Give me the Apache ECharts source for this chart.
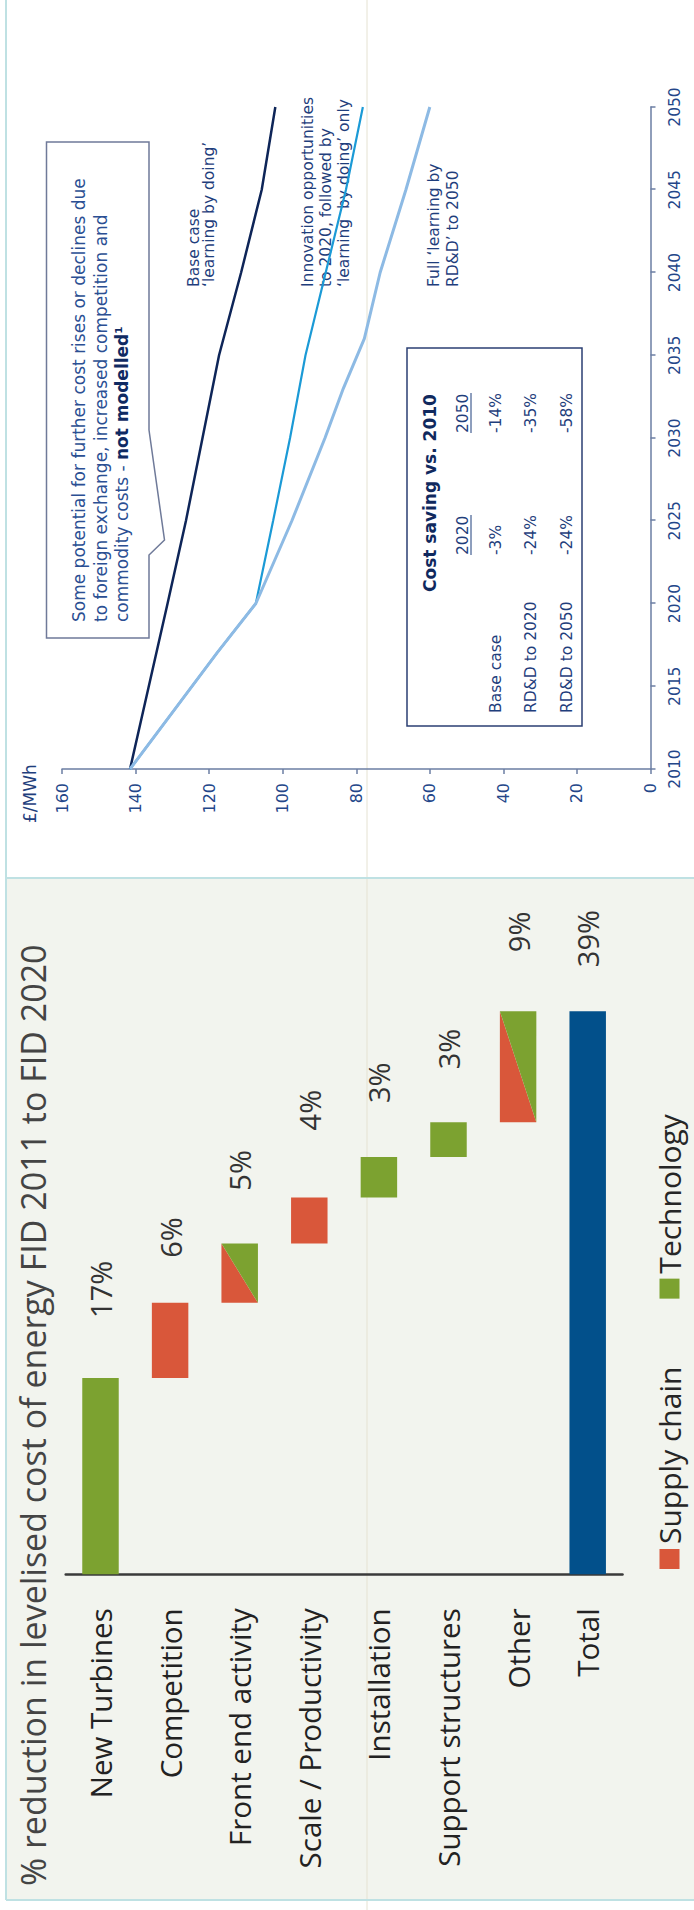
<!DOCTYPE html>
<html>
<head>
<meta charset="utf-8">
<script src="https://cdn.jsdelivr.net/npm/echarts@6/dist/echarts.min.js"></script>
<style>
html,body{margin:0;padding:0;width:694px;height:1910px;overflow:hidden;background:#ffffff;}
#stage{position:absolute;left:0;top:0;width:1910px;height:694px;transform-origin:0 0;transform:translate(0px,1910px) rotate(-90deg);}
</style>
</head>
<body>
<div id="stage"></div>
<script>
// ---------------- DATA ----------------
// Waterfall (left panel): % reduction in levelised cost of energy
const wfCategories = ['New Turbines', 'Competition', 'Front end activity', 'Scale / Productivity',
                      'Installation', 'Support structures', 'Other', 'Total'];
// drawn step lengths as they appear in the picture (percentage points)
const wfSteps = [13.6, 5.2, 4.1, 3.2, 2.8, 2.4, 7.7];
const wfDriver = ['tech', 'supply', 'mixed', 'supply', 'tech', 'tech', 'mixed'];
const wfTotal = 39;
const wfLabels = ['17%', '6%', '5%', '4%', '3%', '3%', '9%', '39%'];

// Line chart (right panel): £/MWh
const yearTicks = [2010, 2015, 2020, 2025, 2030, 2035, 2040, 2045, 2050];
const baseYears = [2010, 2015, 2020, 2025, 2030, 2035, 2040, 2045, 2050];
const baseCase  = [141.5, 136.4, 131.3, 126.3, 121.8, 117.3, 111.3, 105.7, 102.0];
const rdd2020Years = [2010, 2017, 2020, 2025, 2030, 2035, 2040, 2045, 2050];
const rdd2020      = [141.5, 117.9, 107.3, 102.6, 98.0, 93.8, 88.3, 82.8, 78.2];
const rdd2050Years = [2010, 2017, 2020, 2025, 2030, 2033, 2036, 2040, 2045, 2050];
const rdd2050      = [141.5, 117.9, 107.3, 97.5, 88.5, 83.5, 77.8, 73.5, 66.5, 60.0];

// Cost saving table
const tableRows = ['Base case', 'RD&D to 2020', 'RD&D to 2050'];
const tableCols = ['2020', '2050'];
const tableVals = [['-3%', '-14%'], ['-24%', '-35%'], ['-24%', '-58%']];

// ---------------- STYLE ----------------
const RED = '#d9573a', GREEN = '#7ca230', BLUE = '#02508b';
const NAVY = '#0e2558', MID = '#1b9ad6', LIGHT = '#8dbae4';
const AXIS = '#6b7ea3', TXT = '#1f3e7c';
const BAR_RATIO = 0.524;
const labelGap = [60, 45, 53, 67, 54, 53, 59, 44];
const OS = '"Open Sans", sans-serif';
const DV = '"DejaVu Sans", Verdana, sans-serif';

// ---------------- build waterfall series ----------------
const starts = [], ends = [];
let acc = 0;
wfSteps.forEach(v => { starts.push(acc); acc += v; ends.push(acc); });
starts.push(0); ends.push(wfTotal);

const baseData = starts.map(s => s);
const supplyData = wfSteps.map((v, i) => wfDriver[i] === 'supply' ? v : '-').concat(['-']);
const techData = wfSteps.map((v, i) => wfDriver[i] === 'tech' ? v : '-').concat(['-']);
const totalData = wfSteps.map(() => '-').concat([wfTotal]);
const mixedData = [];
wfDriver.forEach((d, i) => { if (d === 'mixed') mixedData.push([starts[i], ends[i], i]); });
const labelData = wfCategories.map((c, i) => [ends[i], i, i]);

const toPairs = (xs, ys) => xs.map((x, i) => [x, ys[i]]);

// ---------------- graphics ----------------
const gText = (x, y, text, opt) => Object.assign({
  type: 'text', z: 1, silent: true,
  style: Object.assign({ x: x, y: y, text: text, fill: TXT, fontFamily: DV, fontSize: 15.5,
                         verticalAlign: 'middle', align: 'left' }, opt || {})
});

const graphics = [
  // panels
  { type: 'rect', z: -10, silent: true, shape: { x: 10, y: 6, width: 1022, height: 688 }, style: { fill: '#f2f4ee' } },
  { type: 'line', z: -9, silent: true, shape: { x1: 0, y1: 367, x2: 1910, y2: 367 }, style: { stroke: '#e5e2d2', lineWidth: 1 } },
  { type: 'line', z: -8, silent: true, shape: { x1: 10, y1: 6, x2: 1910, y2: 6 }, style: { stroke: '#bfe1e3', lineWidth: 2 } },
  { type: 'line', z: -8, silent: true, shape: { x1: 10, y1: 6, x2: 10, y2: 694 }, style: { stroke: '#bfe1e3', lineWidth: 2 } },
  { type: 'line', z: -8, silent: true, shape: { x1: 1032, y1: 6, x2: 1032, y2: 694 }, style: { stroke: '#bfe1e3', lineWidth: 2 } },
  // waterfall title
  gText(24, 33, '% reduction in levelised cost of energy FID 2011 to FID 2020', { fontFamily: OS, fontSize: 34, fill: '#444444' }),
  // unit
  gText(1087, 29.5, '£/MWh', { fontSize: 17, fill: TXT }),
  // callout box
  { type: 'polygon', z: 1, silent: true,
    shape: { points: [[1272, 46.5], [1768, 46.5], [1768, 149], [1480, 149], [1370, 164.5], [1355, 149], [1272, 149]] },
    style: { fill: 'none', stroke: '#6f7a99', lineWidth: 1.5 } },
  gText(1288, 79, 'Some potential for further cost rises or declines due', { fontSize: 17, fill: '#2b4f93' }),
  gText(1288, 100.5, 'to foreign exchange, increased competition and', { fontSize: 17, fill: '#2b4f93' }),
  gText(1288, 122, 'commodity costs - {b|not modelled¹}', { fontSize: 17, fill: '#2b4f93',
    rich: { b: { fontWeight: 'bold', fill: '#0f2a62', fontSize: 17, fontFamily: DV } } }),
  // line labels
  gText(1623, 194, 'Base case', {}),
  gText(1623, 209, '‘learning by doing’', {}),
  gText(1623, 308, 'Innovation opportunities', {}),
  gText(1623, 326, 'to 2020, followed by', {}),
  gText(1623, 344, '‘learning  by doing’ only', {}),
  gText(1623, 433.5, 'Full ‘learning by', {}),
  gText(1623, 453, 'RD&D’ to 2050', {}),
  // table
  { type: 'rect', z: 1, silent: true, shape: { x: 1184, y: 407, width: 378, height: 175 },
    style: { fill: 'none', stroke: '#2b3f73', lineWidth: 1.5 } },
  gText(1318, 430, 'Cost saving vs. 2010', { fontSize: 17, fontWeight: 'bold', fill: '#10295e' }),
  gText(1355, 462.5, tableCols[0], {}),
  gText(1477, 462.5, tableCols[1], {}),
  { type: 'line', z: 1, silent: true, shape: { x1: 1355, y1: 471, x2: 1395, y2: 471 }, style: { stroke: TXT, lineWidth: 1 } },
  { type: 'line', z: 1, silent: true, shape: { x1: 1477, y1: 471, x2: 1517, y2: 471 }, style: { stroke: TXT, lineWidth: 1 } }
];
const rowY = [495.5, 531, 566.5];
tableRows.forEach((r, i) => {
  graphics.push(gText(1197, rowY[i], r, {}));
  graphics.push(gText(1355, rowY[i], tableVals[i][0], {}));
  graphics.push(gText(1477, rowY[i], tableVals[i][1], {}));
});

// ---------------- chart ----------------
const chart = echarts.init(document.getElementById('stage'), null, { renderer: 'svg', width: 1910, height: 694 });

const option = {
  backgroundColor: '#ffffff',
  animation: false,
  graphic: { elements: graphics },
  legend: {
    left: 336, top: 649.5, itemWidth: 20, itemHeight: 20, itemGap: 68, selectedMode: false,
    icon: 'rect',
    textStyle: { fontFamily: OS, fontSize: 30, color: '#262626', lineHeight: 30 },
    data: ['Supply chain', 'Technology']
  },
  grid: [
    { left: 335.7, top: 65.7, width: 649.8, height: 556.8 },
    { left: 1141, top: 62, right: 107, bottom: 43.5 }
  ],
  xAxis: [
    { gridIndex: 0, type: 'value', min: 0, max: 45, show: false },
    { gridIndex: 1, type: 'value', min: 2010, max: 2050, interval: 5,
      axisLine: { show: true, lineStyle: { color: AXIS, width: 1.5 } },
      axisTick: { show: true, length: 5, lineStyle: { color: AXIS, width: 1.5 } },
      axisLabel: { fontFamily: DV, fontSize: 15.5, color: '#234689', margin: 16,
                   formatter: function (v) { return String(v); } },
      splitLine: { show: false } }
  ],
  yAxis: [
    { gridIndex: 0, type: 'category', inverse: true, data: wfCategories,
      axisLine: { show: true, lineStyle: { color: '#3a3a3a', width: 2.5 } },
      axisTick: { show: false },
      axisLabel: { fontFamily: OS, fontSize: 29.5, color: '#222222', margin: 34 } },
    { gridIndex: 1, type: 'value', min: 0, max: 160, interval: 20,
      axisLine: { show: true, lineStyle: { color: AXIS, width: 1.5 } },
      axisTick: { show: true, length: 5, lineStyle: { color: AXIS, width: 1.5 } },
      axisLabel: { fontFamily: DV, fontSize: 16, color: '#234689', margin: 14 },
      splitLine: { show: false } }
  ],
  series: [
    { name: 'base', type: 'bar', stack: 'wf', xAxisIndex: 0, yAxisIndex: 0, barWidth: (BAR_RATIO * 100) + '%',
      silent: true, itemStyle: { color: 'rgba(0,0,0,0)' }, data: baseData },
    { name: 'Supply chain', type: 'bar', stack: 'wf', xAxisIndex: 0, yAxisIndex: 0,
      itemStyle: { color: RED }, data: supplyData },
    { name: 'Technology', type: 'bar', stack: 'wf', xAxisIndex: 0, yAxisIndex: 0,
      itemStyle: { color: GREEN }, data: techData },
    { name: 'Total', type: 'bar', stack: 'wf', xAxisIndex: 0, yAxisIndex: 0,
      itemStyle: { color: BLUE }, data: totalData },
    { name: 'Mixed', type: 'custom', xAxisIndex: 0, yAxisIndex: 0, encode: { x: [0, 1], y: 2 }, data: mixedData,
      renderItem: function (params, api) {
        const p0 = api.coord([api.value(0), api.value(2)]);
        const p1 = api.coord([api.value(1), api.value(2)]);
        const h = api.size([0, 1])[1] * BAR_RATIO;
        const top = p0[1] - h / 2, bot = p0[1] + h / 2, L = p0[0], R = p1[0];
        return { type: 'group', children: [
          { type: 'polygon', shape: { points: [[L, top], [R, top], [L, bot]] }, style: { fill: RED } },
          { type: 'polygon', shape: { points: [[R, top], [R, bot], [L, bot]] }, style: { fill: GREEN } }
        ] };
      } },
    { name: 'Labels', type: 'custom', xAxisIndex: 0, yAxisIndex: 0, encode: { x: 0, y: 1 }, data: labelData, z: 5,
      renderItem: function (params, api) {
        const i = api.value(2);
        const p = api.coord([api.value(0), api.value(1)]);
        return { type: 'text', style: { x: p[0] + labelGap[i], y: p[1], text: wfLabels[i],
          fontFamily: OS, fontSize: 29, fill: '#333333', verticalAlign: 'middle', align: 'left' } };
      } },
    { name: 'Base case', type: 'line', xAxisIndex: 1, yAxisIndex: 1, showSymbol: false, symbol: 'none',
      lineStyle: { color: NAVY, width: 2.5 }, data: toPairs(baseYears, baseCase) },
    { name: 'RD&D to 2020', type: 'line', xAxisIndex: 1, yAxisIndex: 1, showSymbol: false, symbol: 'none',
      lineStyle: { color: MID, width: 2.2 }, data: toPairs(rdd2020Years, rdd2020) },
    { name: 'RD&D to 2050', type: 'line', xAxisIndex: 1, yAxisIndex: 1, showSymbol: false, symbol: 'none',
      lineStyle: { color: LIGHT, width: 3 }, data: toPairs(rdd2050Years, rdd2050) }
  ]
};
chart.setOption(option);
</script>
</body>
</html>
